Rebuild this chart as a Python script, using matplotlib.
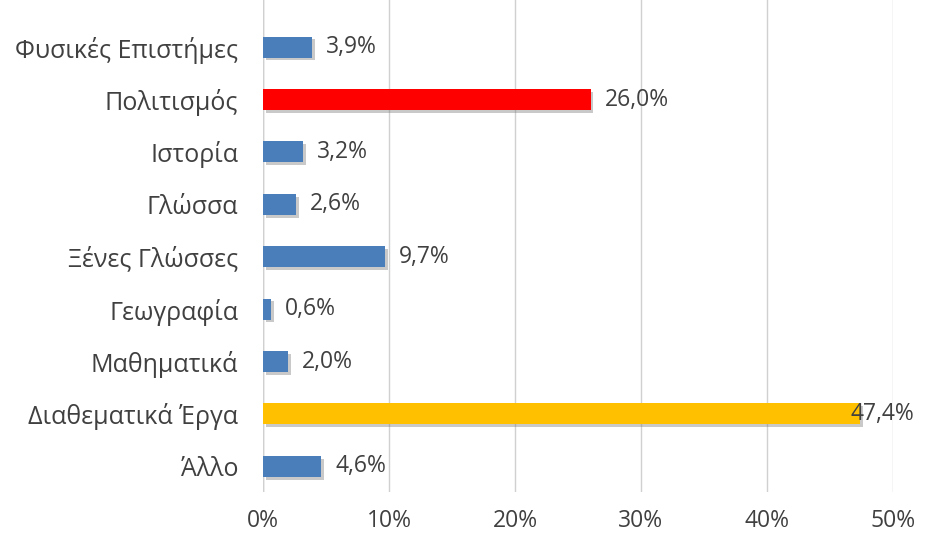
import matplotlib.pyplot as plt
import matplotlib.patheffects as pe

categories = ['Φυσικές Επιστήμες', 'Πολιτισμός', 'Ιστορία', 'Γλώσσα', 'Ξένες Γλώσσες',
              'Γεωγραφία', 'Μαθηματικά', 'Διαθεματικά Έργα', 'Άλλο']
values = [3.9, 26.0, 3.2, 2.6, 9.7, 0.6, 2.0, 47.4, 4.6]
colors = ['#4a7ebb', '#ff0000', '#4a7ebb', '#4a7ebb', '#4a7ebb',
          '#4a7ebb', '#4a7ebb', '#ffc000', '#4a7ebb']
ticks = [0, 10, 20, 30, 40, 50]

plt.rcParams['font.family'] = ['Open Sans', 'DejaVu Sans']

fig = plt.figure(figsize=(9.3, 5.36), dpi=100)
ax = fig.add_axes([0.283, 0.082, 0.677, 0.918])

ypos = list(range(len(categories)))
bars = ax.barh(ypos, values, height=0.4, color=colors, zorder=3)
for b in bars:
    b.set_path_effects([pe.SimplePatchShadow(offset=(2, -2), shadow_rgbFace='#7a7a7a', alpha=0.4), pe.Normal()])

for y, v in zip(ypos, values):
    lab = f'{v:.1f}%'.replace('.', ',')
    if v > 40:
        ax.annotate(lab, (v, y), xytext=(-7, 0), textcoords='offset points',
                    va='center', ha='left', fontsize=16.5, color='#404040', zorder=4)
    else:
        ax.annotate(lab, (v, y), xytext=(10, 0), textcoords='offset points',
                    va='center', ha='left', fontsize=16.5, color='#404040', zorder=4)

ax.set_xlim(0, 50)
ax.set_ylim(8.49, -0.9)
ax.set_yticks(ypos)
ax.set_yticklabels(categories, fontsize=18, color='#404040')
ax.set_xticks(ticks)
ax.set_xticklabels([f'{t}%' for t in ticks], fontsize=16.5, color='#404040')
ax.tick_params(axis='y', length=0, pad=18)
ax.tick_params(axis='x', length=0, pad=12)
ax.grid(axis='x', color='#d0d0d0', linewidth=1, zorder=0)
ax.axvline(0, color='#c0c0c0', linewidth=1, zorder=1)
for s in ax.spines.values():
    s.set_visible(False)

fig.savefig('out.png', dpi=100)
